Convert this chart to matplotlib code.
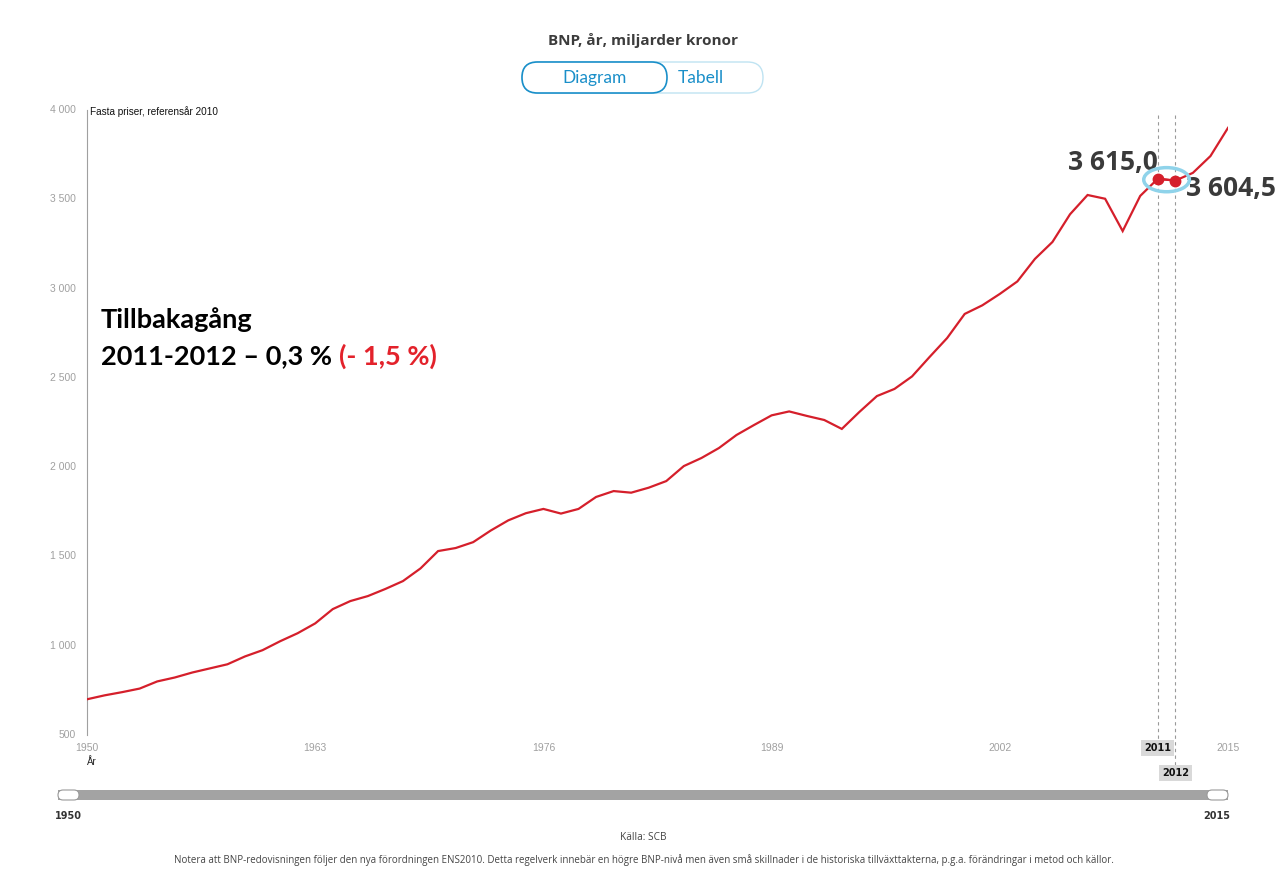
import matplotlib
matplotlib.use("Agg")
import matplotlib.pyplot as plt
from matplotlib.patches import Ellipse, FancyBboxPatch
import matplotlib.transforms as mtransforms

years = list(range(1950, 2016))
gdp = [700, 722, 740, 760, 800, 822, 850, 873, 896, 940,
       975, 1025, 1070, 1125, 1205, 1250, 1278, 1318, 1362, 1433,
       1530, 1547, 1580, 1645, 1702, 1742, 1766, 1740, 1766, 1833,
       1866, 1857, 1885, 1922, 2006, 2051, 2107, 2180, 2236, 2290,
       2312, 2287, 2264, 2214, 2309, 2398, 2438, 2508, 2617, 2723,
       2858, 2906, 2970, 3040, 3166, 3261, 3416, 3524, 3503, 3322,
       3519, 3615.0, 3604.5, 3648, 3742, 3900]
yticks = [500, 1000, 1500, 2000, 2500, 3000, 3500, 4000]
ytick_labels = ["500", "1 000", "1 500", "2 000", "2 500", "3 000", "3 500", "4 000"]
xticks = [1950, 1963, 1976, 1989, 2002, 2015]
hl_years = [2011, 2012]
hl_values = [3615.0, 3604.5]
hl_labels = ["3 615,0", "3 604,5"]

W, H = 1287, 883
fig = plt.figure(figsize=(W / 100, H / 100), dpi=100)
fig.patch.set_facecolor("white")
PIX = mtransforms.IdentityTransform()

def fx(px):
    return px / W

def fy(py):
    return 1 - py / H

ax = fig.add_axes([fx(87), fy(735), fx(1228) - fx(87), fy(110) - fy(735)])
ax.set_xlim(1950, 2015)
ax.set_ylim(500, 4000)
for s in ["top", "right", "bottom"]:
    ax.spines[s].set_visible(False)
ax.spines["left"].set_color("#a0a0a0")
ax.spines["left"].set_linewidth(0.8)

red = "#d51f2b"
ax.plot(years, gdp, color=red, lw=1.6, solid_joinstyle="miter", zorder=3)

ax.set_yticks(yticks)
ax.set_yticklabels(ytick_labels, fontsize=7.5, color="#a0a0a0", family="Liberation Sans")
ax.set_xticks(xticks)
ax.set_xticklabels([str(x) for x in xticks], fontsize=7.5, color="#a0a0a0", family="Liberation Sans")
ax.tick_params(axis="both", length=0)
ax.tick_params(axis="y", pad=8)
ax.tick_params(axis="x", pad=6)
for lbl in ax.get_yticklabels():
    lbl.set_verticalalignment("center")

blend = mtransforms.blended_transform_factory(ax.transData, ax.transAxes)
ax.text(1950, -0.043, "År", transform=blend,
        fontsize=7, color="#222222", ha="left", va="center", family="Liberation Sans")
ax.text(0.003, 0.998, "Fasta priser, referensår 2010", transform=ax.transAxes,
        fontsize=7.2, color="#111111", ha="left", va="center", family="Liberation Sans")

# dashed lines
ax.plot([hl_years[0]] * 2, [0.992, -0.008], transform=blend, color="#999999", lw=0.8,
        ls=(0, (3, 3)), clip_on=False, zorder=1)
ax.plot([hl_years[1]] * 2, [0.992, -0.048], transform=blend, color="#999999", lw=0.8,
        ls=(0, (3, 3)), clip_on=False, zorder=1)
ax.text(hl_years[0], -0.021, str(hl_years[0]), transform=blend, fontsize=7, fontweight="bold",
        ha="center", va="center", family="DejaVu Sans", color="#111111",
        bbox=dict(boxstyle="square,pad=0.3", fc="#d9d9d9", ec="none"))
ax.text(hl_years[1], -0.061, str(hl_years[1]), transform=blend, fontsize=7, fontweight="bold",
        ha="center", va="center", family="DejaVu Sans", color="#111111",
        bbox=dict(boxstyle="square,pad=0.3", fc="#d9d9d9", ec="none"))

# highlighted points
ax.plot(hl_years, hl_values, color=red, lw=1.6, marker="o", ms=7.5, zorder=5)
ell = Ellipse((sum(hl_years) / 2, sum(hl_values) / 2), width=2.6, height=135,
              fill=False, ec="#8fd3ea", lw=2.5, zorder=4)
ax.add_patch(ell)
ax.annotate(hl_labels[0], (hl_years[0], hl_values[0]), xytext=(0, 12), textcoords="offset points",
            ha="right", va="center", fontsize=19, fontweight="bold", color="#3a3a3a",
            family="Open Sans")
ax.annotate(hl_labels[1], (hl_years[1], hl_values[1]), xytext=(8, -6), textcoords="offset points",
            ha="left", va="center", fontsize=19, fontweight="bold", color="#3a3a3a",
            family="Open Sans")

# big annotation text
fig.text(fx(101), fy(320), "Tillbakagång", fontsize=19.5, fontweight="bold", color="#000000",
         family="Lato", ha="left", va="center")
t1 = fig.text(fx(101), fy(356), "2011-2012 – 0,3 % ", fontsize=19.5, fontweight="bold",
              color="#000000", family="Lato", ha="left", va="center")
fig.canvas.draw()
bb = t1.get_window_extent()
fig.text(bb.x1 / W, fy(356), "(- 1,5 %)", fontsize=19.5, fontweight="bold", color="#e3222b",
         family="Lato", ha="left", va="center")

# title
fig.text(0.5, fy(40), "BNP, år, miljarder kronor", fontsize=11, fontweight="bold",
         color="#3c3c3c", family="Open Sans", ha="center", va="center")

# buttons (pixel coordinates)
outer = FancyBboxPatch((522, H - 93), 763 - 522, 31,
                       boxstyle="round,pad=0,rounding_size=15.5", transform=PIX,
                       fc="white", ec="#bfe3f2", lw=1.0)
fig.add_artist(outer)
inner = FancyBboxPatch((522, H - 93), 667 - 522, 31,
                       boxstyle="round,pad=0,rounding_size=15.5", transform=PIX,
                       fc="white", ec="#1a8fc9", lw=1.2)
fig.add_artist(inner)
fig.text(fx(595), fy(78), "Diagram", fontsize=12.5, color="#1a8fc9", family="Lato",
         ha="center", va="center")
fig.text(fx(701), fy(78), "Tabell", fontsize=12.5, color="#1a8fc9", family="Lato",
         ha="center", va="center")

# slider
bar = FancyBboxPatch((58, H - 800), 1228 - 58, 10,
                     boxstyle="square,pad=0", transform=PIX, fc="#a3a3a3", ec="none")
fig.add_artist(bar)
for x0 in (58, 1207):
    h = FancyBboxPatch((x0, H - 800), 21, 10,
                       boxstyle="round,pad=0,rounding_size=5", transform=PIX,
                       fc="white", ec="#9a9a9a", lw=0.8)
    fig.add_artist(h)
fig.text(fx(68), fy(816), "1950", fontsize=7, fontweight="bold", color="#333333",
         family="DejaVu Sans", ha="center", va="center")
fig.text(fx(1217), fy(816), "2015", fontsize=7, fontweight="bold", color="#333333",
         family="DejaVu Sans", ha="center", va="center")

fig.text(0.5, fy(837), "Källa: SCB", fontsize=7.3, color="#444444", family="Open Sans",
         ha="center", va="center")
fig.text(0.5, fy(860),
         "Notera att BNP-redovisningen följer den nya förordningen ENS2010. Detta regelverk innebär en högre "
         "BNP-nivå men även små skillnader i de historiska tillväxttakterna, p.g.a. förändringar i metod och källor.",
         fontsize=7.05, color="#444444", family="Open Sans", ha="center", va="center")

fig.savefig("out.png", dpi=100, facecolor="white")
